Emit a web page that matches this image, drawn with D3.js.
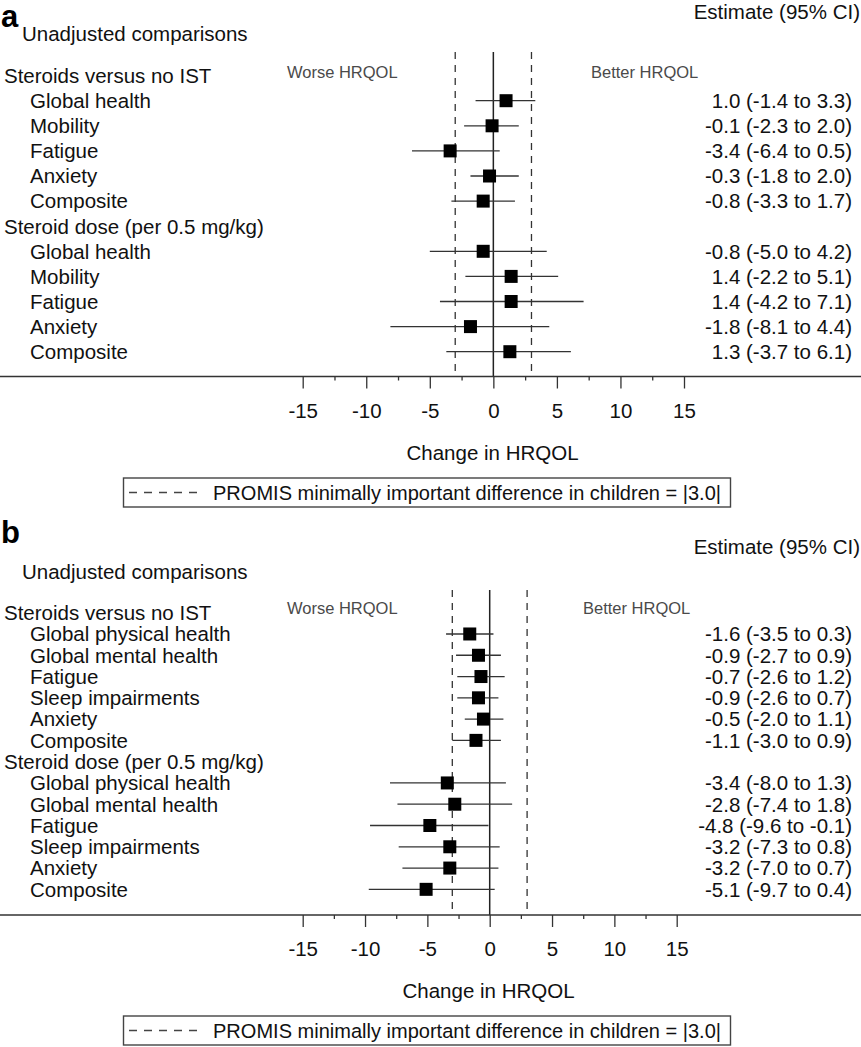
<!DOCTYPE html>
<html><head><meta charset="utf-8">
<script src="https://cdn.jsdelivr.net/npm/d3@7"></script>
<style>
html,body{margin:0;padding:0;background:#fff;}
svg{display:block;font-family:"Liberation Sans",Arial,sans-serif;}
</style></head>
<body>
<svg id="c" width="861" height="1047"></svg>
<script>
// ---------- DATA ----------
const groupLabels = ["Steroids versus no IST", "Steroid dose (per 0.5 mg/kg)"];
const tickValues = [-15, -10, -5, 0, 5, 10, 15];
const minorTickValues = [-12.5, -7.5, -2.5, 2.5, 7.5, 12.5];
const mid = 3.0;

// Panel a
const aCategories = ["Global health", "Mobility", "Fatigue", "Anxiety", "Composite"];
const aEstIST  = [1.0, -0.1, -3.4, -0.3, -0.8];
const aLowIST  = [-1.4, -2.3, -6.4, -1.8, -3.3];
const aHighIST = [3.3, 2.0, 0.5, 2.0, 1.7];
const aEstDose  = [-0.8, 1.4, 1.4, -1.8, 1.3];
const aLowDose  = [-5.0, -2.2, -4.2, -8.1, -3.7];
const aHighDose = [4.2, 5.1, 7.1, 4.4, 6.1];

// Panel b
const bCategories = ["Global physical health", "Global mental health", "Fatigue", "Sleep impairments", "Anxiety", "Composite"];
const bEstIST  = [-1.6, -0.9, -0.7, -0.9, -0.5, -1.1];
const bLowIST  = [-3.5, -2.7, -2.6, -2.6, -2.0, -3.0];
const bHighIST = [0.3, 0.9, 1.2, 0.7, 1.1, 0.9];
const bEstDose  = [-3.4, -2.8, -4.8, -3.2, -3.2, -5.1];
const bLowDose  = [-8.0, -7.4, -9.6, -7.3, -7.0, -9.7];
const bHighDose = [1.3, 1.8, -0.1, 0.8, 0.7, 0.4];

// ---------- DRAW ----------
const svg = d3.select("#c");
const FS = 20.5;
const txt = "#111";

function buildRows(cats, e1, l1, h1, e2, l2, h2) {
  const rows = [{type: "group", label: groupLabels[0]}];
  cats.forEach((c, i) => rows.push({type: "item", label: c, est: e1[i], lo: l1[i], hi: h1[i]}));
  rows.push({type: "group", label: groupLabels[1]});
  cats.forEach((c, i) => rows.push({type: "item", label: c, est: e2[i], lo: l2[i], hi: h2[i]}));
  return rows;
}

function panel(cfg) {
  const g = svg.append("g");
  const rows = cfg.rows;
  const x = d3.scaleLinear().domain([-15, 15]).range(cfg.xRange);
  const y = d3.scaleLinear().domain([0, rows.length - 1]).range([cfg.y0, cfg.y0 + cfg.step * (rows.length - 1)]);

  // panel letter
  g.append("text").attr("x", 1).attr("y", cfg.letterY).attr("font-size", 31).attr("font-weight", "bold")
    .attr("fill", "#000").text(cfg.letter);
  // estimate header
  g.append("text").attr("x", 860).attr("y", cfg.estY).attr("text-anchor", "end").attr("font-size", FS)
    .attr("fill", txt).text("Estimate (95% CI)");
  // Unadjusted comparisons
  g.append("text").attr("x", 22).attr("y", cfg.unadjY).attr("font-size", FS).attr("fill", txt)
    .text("Unadjusted comparisons");

  // worse / better
  g.append("text").attr("x", cfg.worseX).attr("y", cfg.wbY).attr("font-size", 16.5).attr("fill", "#4a4a4a")
    .text("Worse HRQOL");
  g.append("text").attr("x", cfg.betterX).attr("y", cfg.wbY).attr("font-size", 16.5).attr("fill", "#4a4a4a")
    .text("Better HRQOL");

  // reference lines
  g.append("line").attr("x1", x(0)).attr("x2", x(0)).attr("y1", cfg.lineTop).attr("y2", cfg.axisY)
    .attr("stroke", "#222").attr("stroke-width", 1.5);
  [-mid, mid].forEach(v => {
    g.append("line").attr("x1", x(v)).attr("x2", x(v)).attr("y1", cfg.lineTop).attr("y2", cfg.axisY)
      .attr("stroke", "#333").attr("stroke-width", 1.3).attr("stroke-dasharray", "7,6");
  });

  // row labels
  g.selectAll("text.lab").data(rows).join("text").attr("class", "lab")
    .attr("x", d => d.type === "group" ? 4 : 30)
    .attr("y", (d, i) => y(i) + 7.3)
    .attr("font-size", FS).attr("fill", txt)
    .text(d => d.label);

  const items = rows.map((d, i) => Object.assign({i}, d)).filter(d => d.type === "item");

  // CI lines
  g.selectAll("line.ci").data(items).join("line").attr("class", "ci")
    .attr("x1", d => x(d.lo)).attr("x2", d => x(d.hi))
    .attr("y1", d => y(d.i)).attr("y2", d => y(d.i))
    .attr("stroke", "#333").attr("stroke-width", 1.3);
  // markers
  const ms = 13;
  g.selectAll("rect.m").data(items).join("rect").attr("class", "m")
    .attr("x", d => x(d.est) - ms / 2).attr("y", d => y(d.i) - ms / 2)
    .attr("width", ms).attr("height", ms).attr("fill", "#000");
  // estimate text
  const f = v => v.toFixed(1);
  g.selectAll("text.est").data(items).join("text").attr("class", "est")
    .attr("x", 852).attr("y", d => y(d.i) + 7.3).attr("text-anchor", "end")
    .attr("font-size", FS).attr("fill", txt)
    .text(d => `${f(d.est)} (${f(d.lo)} to ${f(d.hi)})`);

  // axis baseline across full width
  g.append("line").attr("x1", 0).attr("x2", 861).attr("y1", cfg.axisY).attr("y2", cfg.axisY)
    .attr("stroke", "#333").attr("stroke-width", 1.3);
  // major axis
  const ax = g.append("g").attr("transform", `translate(0,${cfg.axisY})`)
    .call(d3.axisBottom(x).tickValues(tickValues).tickSize(12).tickPadding(cfg.tickPad).tickFormat(d3.format("d")));
  ax.select(".domain").remove();
  ax.selectAll(".tick line").attr("stroke", "#333").attr("stroke-width", 1.3);
  ax.selectAll(".tick text").attr("font-size", FS).attr("fill", txt)
    .attr("font-family", '"Liberation Sans",Arial,sans-serif')
    .text(d => d < 0 ? "-" + Math.abs(d) : d);
  // minor ticks
  const mx = g.append("g").attr("transform", `translate(0,${cfg.axisY})`)
    .call(d3.axisBottom(x).tickValues(minorTickValues).tickSize(4).tickFormat(""));
  mx.select(".domain").remove();
  mx.selectAll(".tick line").attr("stroke", "#333").attr("stroke-width", 1.3);

  // axis title
  g.append("text").attr("x", cfg.titleX).attr("y", cfg.titleY).attr("text-anchor", "middle")
    .attr("font-size", FS).attr("fill", txt).text("Change in HRQOL");

  // legend box
  g.append("rect").attr("x", 123.5).attr("y", cfg.legY).attr("width", 607).attr("height", 29)
    .attr("fill", "none").attr("stroke", "#444").attr("stroke-width", 1.4);
  g.append("line").attr("x1", 129).attr("x2", 204).attr("y1", cfg.legY + 14.5).attr("y2", cfg.legY + 14.5)
    .attr("stroke", "#444").attr("stroke-width", 1.3).attr("stroke-dasharray", "8,7");
  g.append("text").attr("x", 213).attr("y", cfg.legY + 22).attr("font-size", FS).attr("fill", txt)
    .attr("textLength", 508).attr("lengthAdjust", "spacingAndGlyphs")
    .text("PROMIS minimally important difference in children = |" + mid.toFixed(1) + "|");
}

panel({
  letter: "a", letterY: 27, estY: 19, unadjY: 40.5, wbY: 78,
  worseX: 287, betterX: 591,
  rows: buildRows(aCategories, aEstIST, aLowIST, aHighIST, aEstDose, aLowDose, aHighDose),
  xRange: [302.7, 684], y0: 75.6, step: 25.1,
  lineTop: 52, axisY: 376.5, tickPad: 15, titleX: 492.5, titleY: 459.5, legY: 478
});

panel({
  letter: "b", letterY: 543, estY: 554, unadjY: 579, wbY: 614,
  worseX: 287, betterX: 583,
  rows: buildRows(bCategories, bEstIST, bLowIST, bHighIST, bEstDose, bLowDose, bHighDose),
  xRange: [302.7, 676.7], y0: 612.7, step: 21.28,
  lineTop: 590, axisY: 915, tickPad: 14, titleX: 488.5, titleY: 998, legY: 1016
});
</script>
</body></html>
